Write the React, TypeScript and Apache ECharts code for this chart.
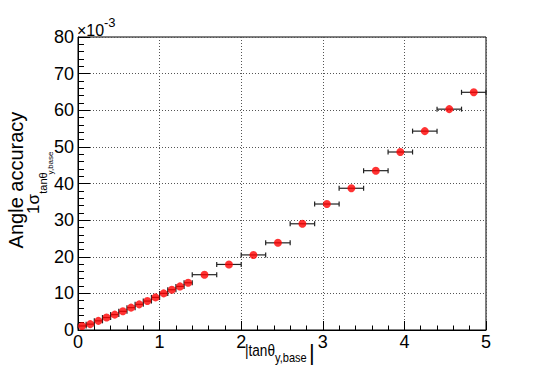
import React, { useEffect, useRef } from "react";
import * as echarts from "echarts";

const xCenters = [
  0.05, 0.15, 0.25, 0.35, 0.45, 0.55, 0.65, 0.75, 0.85, 0.95, 1.05, 1.15, 1.25, 1.35,
  1.55, 1.85, 2.15, 2.45, 2.75, 3.05, 3.35, 3.65, 3.95, 4.25, 4.55, 4.85,
];
const xHalfWidths = [
  0.05, 0.05, 0.05, 0.05, 0.05, 0.05, 0.05, 0.05, 0.05, 0.05, 0.05, 0.05, 0.05, 0.05,
  0.15, 0.15, 0.15, 0.15, 0.15, 0.15, 0.15, 0.15, 0.15, 0.15, 0.15, 0.15,
];
// values in units of 1e-3
const yValues = [
  1.1, 1.6, 2.5, 3.4, 4.2, 5.1, 6.1, 7.0, 7.9, 8.9, 10.0, 11.0, 11.9, 12.9,
  15.1, 17.9, 20.5, 23.8, 29.0, 34.4, 38.7, 43.5, 48.6, 54.3, 60.3, 64.9,
];

const FONT = "Liberation Sans, Arial, Helvetica, sans-serif";

export default function App() {
  const ref = useRef<HTMLDivElement>(null);
  useEffect(() => {
    if (!ref.current) return;
    const chart = echarts.init(ref.current, undefined, { renderer: "svg" });
    const errData = xCenters.map((x, i) => [x, yValues[i], x - xHalfWidths[i], x + xHalfWidths[i]]);
    const ptData = xCenters.map((x, i) => [x, yValues[i]]);
    const txt = (
      text: string,
      x: number,
      y: number,
      fontSize: number,
      align: string,
      rotation = 0,
      scaleX = 1
    ) => ({
      type: "text",
      x,
      y,
      rotation,
      scaleX,
      z: 10,
      style: {
        text,
        fontSize,
        fontFamily: FONT,
        fill: "#000",
        align,
        verticalAlign: "middle",
      },
    });
    chart.setOption({
      animation: false,
      backgroundColor: "#fff",
      grid: {
        left: 78,
        top: 37,
        right: 54,
        bottom: 38,
        show: true,
        borderColor: "#000",
        borderWidth: 1,
        backgroundColor: "transparent",
      },
      xAxis: {
        type: "value",
        min: 0,
        max: 5,
        interval: 1,
        axisLine: { show: true, onZero: false, lineStyle: { color: "#000", width: 1 } },
        axisTick: { show: true, inside: true, length: 9, lineStyle: { color: "#000" } },
        minorTick: { show: true, splitNumber: 5, length: 4.5, lineStyle: { color: "#000" } },
        splitLine: { show: true, lineStyle: { color: "#555", type: [1, 2], width: 1 } },
        axisLabel: { fontSize: 18, fontFamily: FONT, color: "#000", margin: 3 },
      },
      yAxis: {
        type: "value",
        min: 0,
        max: 80,
        interval: 10,
        axisLine: { show: true, onZero: false, lineStyle: { color: "#000", width: 1 } },
        axisTick: { show: true, inside: true, length: 12, lineStyle: { color: "#000" } },
        minorTick: { show: true, splitNumber: 5, length: 6, lineStyle: { color: "#000" } },
        splitLine: { show: true, lineStyle: { color: "#555", type: [1, 2], width: 1 } },
        axisLabel: { fontSize: 18, fontFamily: FONT, color: "#000", margin: 4 },
      },
      series: [
        {
          type: "custom",
          data: errData,
          encode: { x: [0, 2, 3], y: 1 },
          z: 2,
          renderItem: (params: any, api: any) => {
            const c = api.coord([api.value(0), api.value(1)]);
            const l = api.coord([api.value(2), api.value(1)]);
            const r = api.coord([api.value(3), api.value(1)]);
            const st = { stroke: "#222", lineWidth: 1.2 };
            return {
              type: "group",
              children: [
                { type: "line", shape: { x1: l[0], y1: c[1], x2: r[0], y2: c[1] }, style: st },
                { type: "line", shape: { x1: l[0], y1: c[1] - 2.5, x2: l[0], y2: c[1] + 2.5 }, style: st },
                { type: "line", shape: { x1: r[0], y1: c[1] - 2.5, x2: r[0], y2: c[1] + 2.5 }, style: st },
              ],
            };
          },
        },
        {
          type: "scatter",
          data: ptData,
          symbol: "circle",
          symbolSize: 8,
          itemStyle: { color: "#ff0000" },
          z: 3,
        },
      ],
      graphic: [
        txt("\u00d710", 77, 30, 16, "left"),
        txt("-3", 104, 22, 13, "left"),
        txt("Angle accuracy", 16, 180, 20, "center", Math.PI / 2),
        txt("1\u03c3", 33, 204, 17, "center", Math.PI / 2),
        txt("tan\u03b8", 42.5, 183, 11, "center", Math.PI / 2),
        txt("y,base", 50, 163, 8, "center", Math.PI / 2),
        txt("|tan\u03b8", 245, 350, 17, "left", 0, 0.8),
        txt("y,base", 275, 358, 13, "left", 0, 0.85),
        txt("|", 309, 352, 22, "left"),
      ],
    });
    return () => chart.dispose();
  }, []);
  return (
    <div
      ref={ref}
      style={{ position: "fixed", left: 0, top: 0, width: 540, height: 368, background: "#fff" }}
    />
  );
}
